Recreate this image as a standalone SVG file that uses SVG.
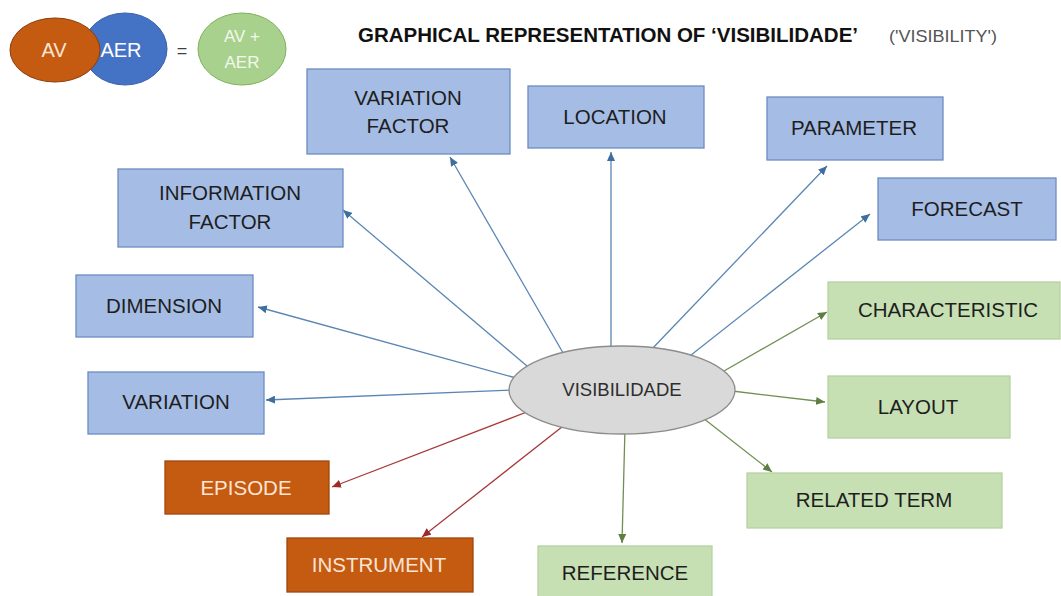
<svg xmlns="http://www.w3.org/2000/svg" width="1061" height="596" viewBox="0 0 1061 596">
<style>
text{font-family:"Liberation Sans",Arial,sans-serif;}
.lbl{font-size:20.5px;fill:#1E1E1E;text-anchor:middle;}
.lblo{font-size:20.5px;fill:#FBE5D6;text-anchor:middle;}
.bb{fill:#A5BDE5;stroke:#6A8CC4;stroke-width:1.3;}
.gb{fill:#C6E0B4;stroke:#B5D3A0;stroke-width:1.3;}
.ob{fill:#C55A11;stroke:#9E4710;stroke-width:1.3;}
.cb{stroke:#5A86B4;stroke-width:1.3;fill:none;marker-end:url(#ab);}
.cg{stroke:#708F52;stroke-width:1.3;fill:none;marker-end:url(#ag);}
.cr{stroke:#A83A3A;stroke-width:1.3;fill:none;marker-end:url(#ar);}
</style>
<defs>
<marker id="ab" markerUnits="userSpaceOnUse" markerWidth="9" markerHeight="8" refX="9" refY="4" orient="auto"><path d="M0,0 L9,4 L0,8 z" fill="#3E6E9E"/></marker>
<marker id="ag" markerUnits="userSpaceOnUse" markerWidth="9" markerHeight="8" refX="9" refY="4" orient="auto"><path d="M0,0 L9,4 L0,8 z" fill="#5E7F3F"/></marker>
<marker id="ar" markerUnits="userSpaceOnUse" markerWidth="9" markerHeight="8" refX="9" refY="4" orient="auto"><path d="M0,0 L9,4 L0,8 z" fill="#A02828"/></marker>
</defs>
<rect width="1061" height="596" fill="#ffffff"/>

<g id="legend">
<ellipse cx="125" cy="49" rx="42" ry="36" fill="#4472C4" stroke="#3A62A8" stroke-width="1"/>
<ellipse cx="55" cy="50" rx="45" ry="32" fill="#C55A11" stroke="#8A3D0C" stroke-width="1"/>
<text x="54" y="57" font-size="20" fill="#FBE5D6" text-anchor="middle">AV</text>
<text x="121" y="57" font-size="20" fill="#FFFFFF" text-anchor="middle">AER</text>
<text x="182" y="57" font-size="18" fill="#404040" text-anchor="middle">=</text>
<ellipse cx="242" cy="49" rx="44" ry="36" fill="#A9D18E" stroke="#7FB15A" stroke-width="1"/>
<text x="242" y="42" font-size="17" fill="#F2F8EC" text-anchor="middle">AV +</text>
<text x="242" y="68" font-size="17" fill="#F2F8EC" text-anchor="middle">AER</text>
</g>

<g id="title">
<text x="358" y="42" font-size="20" font-weight="bold" fill="#111111" textLength="500" lengthAdjust="spacingAndGlyphs">GRAPHICAL REPRESENTATION OF ‘VISIBILIDADE’</text>
<text x="889" y="42" font-size="17" fill="#555555" textLength="108" lengthAdjust="spacingAndGlyphs">('VISIBILITY')</text>
</g>

<g id="connectors">
<line class="cb" x1="566" y1="358" x2="450" y2="157"/>
<line class="cb" x1="527" y1="366" x2="343" y2="210"/>
<line class="cb" x1="516" y1="378" x2="258" y2="307"/>
<line class="cb" x1="515" y1="390" x2="266" y2="400"/>
<line class="cb" x1="611" y1="352" x2="611" y2="152"/>
<line class="cb" x1="650" y1="351" x2="827" y2="166"/>
<line class="cb" x1="686" y1="359" x2="870" y2="214"/>
<line class="cg" x1="724" y1="371" x2="827" y2="312"/>
<line class="cg" x1="732" y1="391" x2="825" y2="402"/>
<line class="cg" x1="703" y1="418" x2="772" y2="472"/>
<line class="cg" x1="625" y1="428" x2="622" y2="543"/>
<line class="cr" x1="532" y1="410" x2="332" y2="487"/>
<line class="cr" x1="567" y1="423" x2="422" y2="537"/>
</g>

<g id="visibilidade">
<ellipse cx="622" cy="390" rx="113" ry="44" fill="#D9D9D9" stroke="#8C8C8C" stroke-width="1.3"/>
<text x="622" y="396" font-size="18.5" fill="#2E2E2E" text-anchor="middle">VISIBILIDADE</text>
</g>

<g id="variation-factor">
<rect class="bb" x="307" y="69" width="203" height="85"/>
<text class="lbl" x="408" y="105">VARIATION</text>
<text class="lbl" x="408" y="133">FACTOR</text>
</g>
<g id="location">
<rect class="bb" x="528" y="86" width="176" height="62"/>
<text class="lbl" x="615" y="124">LOCATION</text>
</g>
<g id="information-factor">
<rect class="bb" x="118" y="169" width="225" height="78"/>
<text class="lbl" x="230" y="200">INFORMATION</text>
<text class="lbl" x="230" y="229">FACTOR</text>
</g>
<g id="dimension">
<rect class="bb" x="76" y="275" width="177" height="62"/>
<text class="lbl" x="164" y="313">DIMENSION</text>
</g>
<g id="variation">
<rect class="bb" x="88" y="372" width="176" height="62"/>
<text class="lbl" x="176" y="409">VARIATION</text>
</g>
<g id="parameter">
<rect class="bb" x="767" y="97" width="176" height="63"/>
<text class="lbl" x="854" y="135">PARAMETER</text>
</g>
<g id="forecast">
<rect class="bb" x="878" y="178" width="178" height="62"/>
<text class="lbl" x="967" y="216">FORECAST</text>
</g>
<g id="characteristic">
<rect class="gb" x="828" y="282" width="232" height="57"/>
<text class="lbl" x="948" y="317">CHARACTERISTIC</text>
</g>
<g id="layout">
<rect class="gb" x="828" y="376" width="182" height="62"/>
<text class="lbl" x="918" y="414">LAYOUT</text>
</g>
<g id="related-term">
<rect class="gb" x="747" y="473" width="255" height="55"/>
<text class="lbl" x="874" y="507">RELATED TERM</text>
</g>
<g id="reference">
<rect class="gb" x="538" y="546" width="174" height="62"/>
<text class="lbl" x="625" y="580">REFERENCE</text>
</g>
<g id="episode">
<rect class="ob" x="165" y="461" width="164" height="53"/>
<text class="lblo" x="246" y="495">EPISODE</text>
</g>
<g id="instrument">
<rect class="ob" x="287" y="538" width="186" height="54"/>
<text class="lblo" x="379" y="572">INSTRUMENT</text>
</g>
</svg>
